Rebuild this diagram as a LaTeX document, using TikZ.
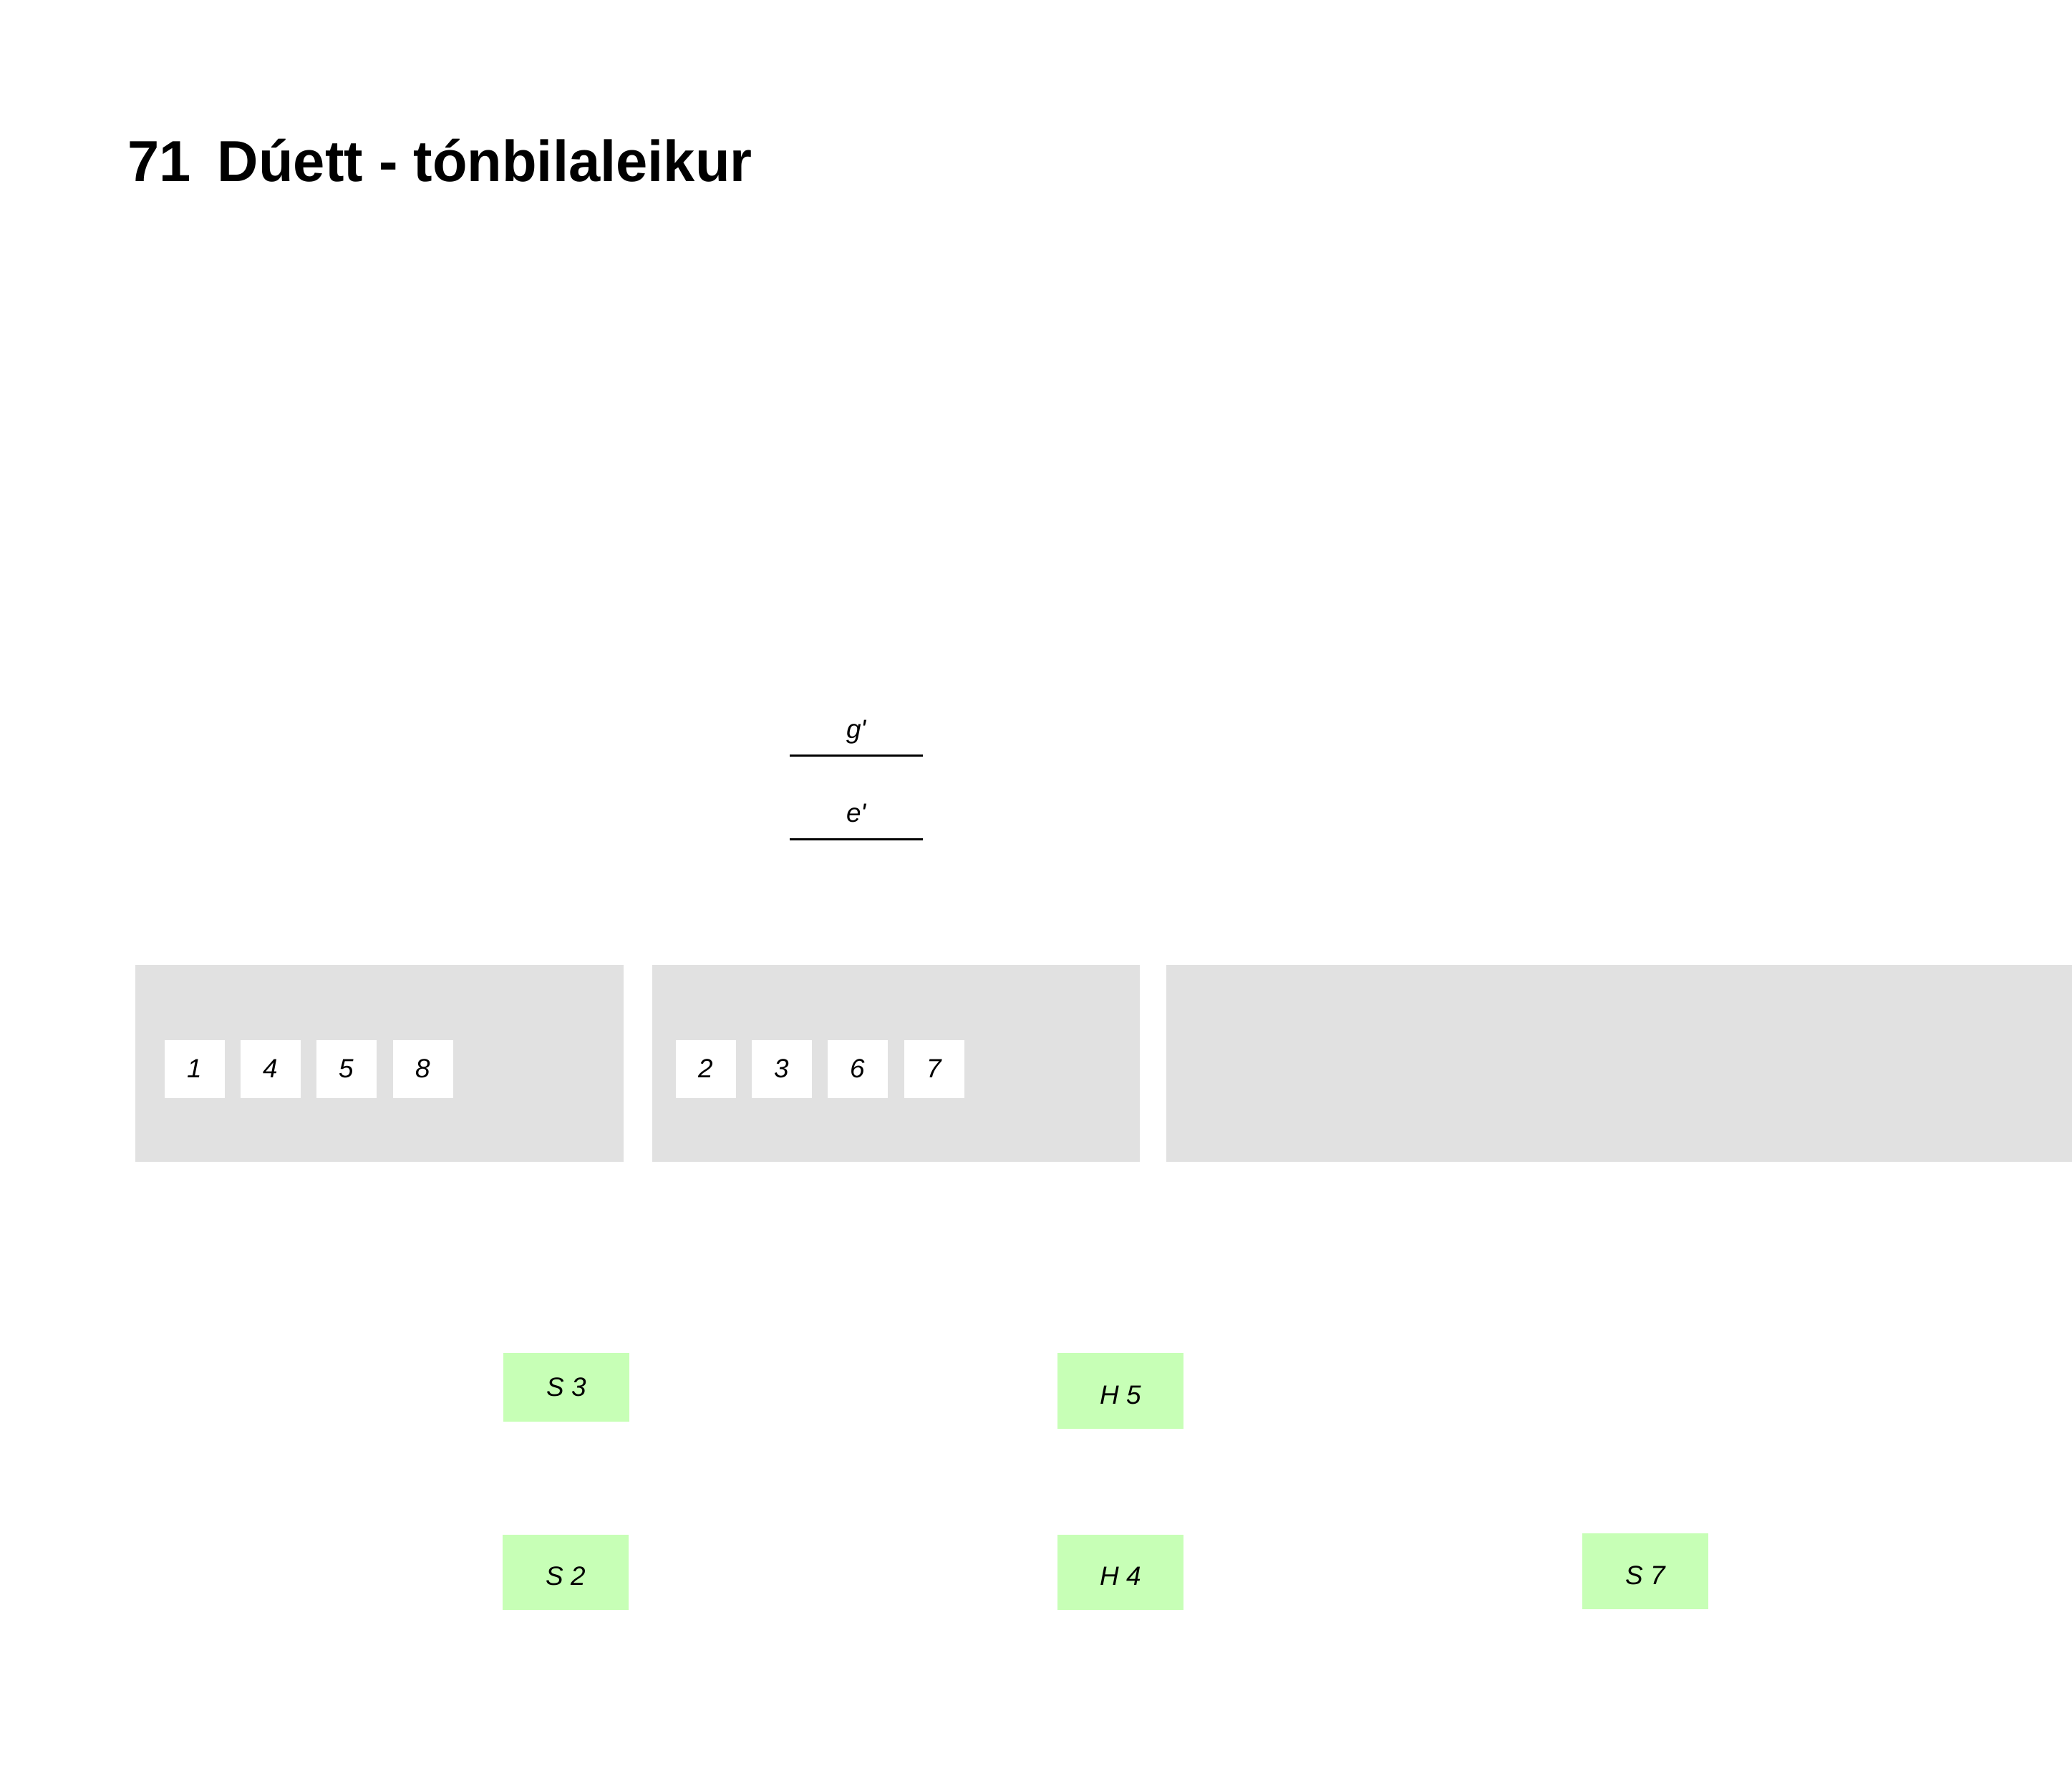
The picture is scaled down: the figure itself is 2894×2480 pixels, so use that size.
\documentclass[tikz,border=0pt]{standalone}
\usepackage{fontspec}
\setmainfont{Liberation Sans}
\newfontfamily\lblfont{Liberation Sans}
\definecolor{boxgray}{RGB}{225,225,225}
\definecolor{notegreen}{RGB}{199,255,182}
\newcommand{\lowertext}[1]{\raisebox{-0.06cm}[\height][\depth]{#1}}
\tikzset{
  lbl/.style={font=\lblfont\fontsize{10.5}{12}\selectfont\itshape, text=black},
  graybox/.style={fill=boxgray, draw=none, anchor=north west, minimum height=2.75cm, inner sep=0},
  card/.style={lbl, fill=white, draw=none, minimum width=0.83cm, minimum height=0.81cm, inner sep=0},
  note/.style={lbl, fill=notegreen, draw=none, minimum width=1.75cm, inner sep=0},
  staff/.style={line width=0.85pt, black},
}
\begin{document}
\begin{tikzpicture}[x=0.01cm,y=-0.01cm]
\useasboundingbox (0,0) rectangle (2894,2480);
\begin{scope}
\clip (0,0) rectangle (2894,2480);
% title
\node[anchor=base west, inner sep=0, font=\fontsize{23}{27}\selectfont\bfseries] (title) at (178,253) {\scalebox{0.983}[1]{71\hspace{0.15cm} D\'uett - t\'onbilaleikur}};

% pitch lines
\node[lbl, anchor=base, inner sep=0] (gtxt) at (1196,1031) {g'};
\coordinate (g1) at (1103,1055);
\coordinate (g2) at (1289,1055);
\draw[staff] (g1) -- (g2);
\node[lbl, anchor=base, inner sep=0] (etxt) at (1196,1148) {e'};
\coordinate (e1) at (1103,1172);
\coordinate (e2) at (1289,1172);
\draw[staff] (e1) -- (e2);

% gray boxes
\node[graybox, minimum width=6.82cm] (box1) at (188,1347) {};
\node[graybox, minimum width=6.81cm] (box2) at (910,1347) {};
\node[graybox, minimum width=13.2cm] (box3) at (1628,1347) {};

% cards
\node[card] (c1) at (272,1493) {1};
\node[card] (c4) at (378,1493) {4};
\node[card] (c5) at (484,1493) {5};
\node[card] (c8) at (591,1493) {8};
\node[card] (c2) at (986,1493) {2};
\node[card] (c3) at (1092,1493) {3};
\node[card] (c6) at (1198,1493) {6};
\node[card] (c7) at (1305,1493) {7};

% green notes
\node[note, minimum height=0.96cm] (s3) at (791,1938) {S 3};
\node[note, minimum height=1.06cm] (h5) at (1565,1943) {\lowertext{H 5}};
\node[note, minimum height=1.05cm] (s2) at (790,2196) {\lowertext{S 2}};
\node[note, minimum height=1.05cm] (h4) at (1565,2196) {\lowertext{H 4}};
\node[note, minimum height=1.06cm] (s7) at (2298,2195) {\lowertext{S 7}};
\end{scope}
\end{tikzpicture}
\end{document}
